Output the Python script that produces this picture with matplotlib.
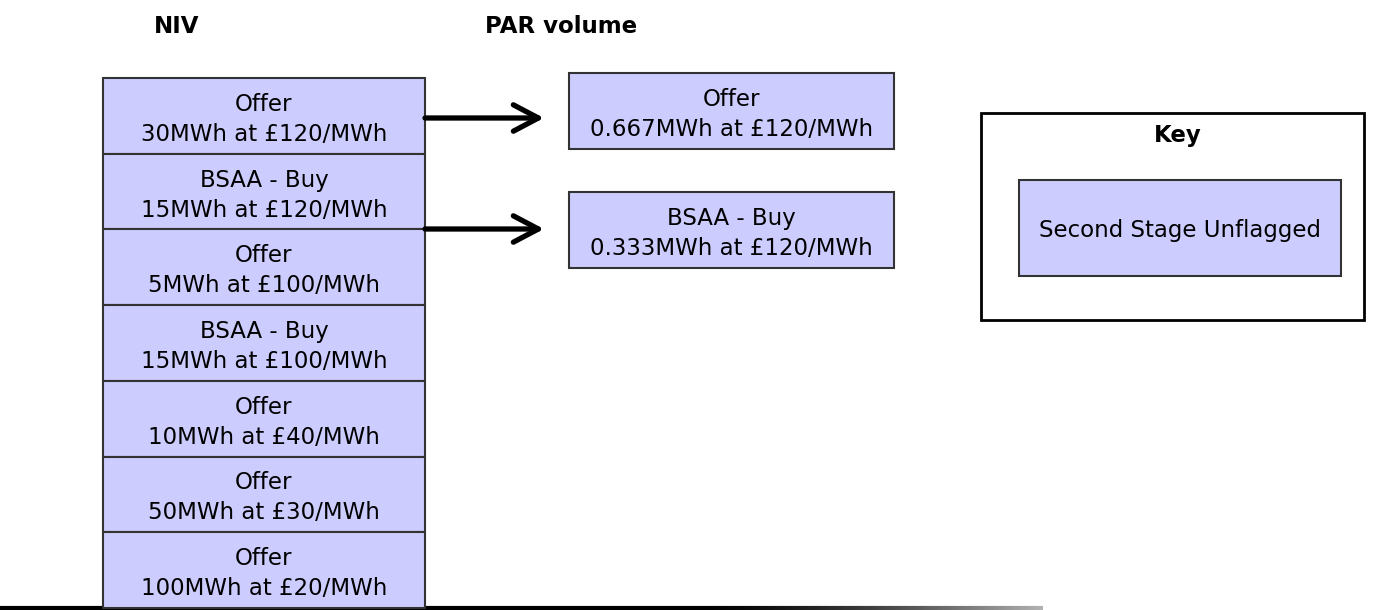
import matplotlib.pyplot as plt
import numpy as np
from matplotlib.patches import Rectangle, FancyArrowPatch
from matplotlib.collections import LineCollection

# stack of NIV actions (top to bottom)
niv_types = ['Offer', 'BSAA - Buy', 'Offer', 'BSAA - Buy', 'Offer', 'Offer', 'Offer']
niv_volumes = ['30MWh', '15MWh', '5MWh', '15MWh', '10MWh', '50MWh', '100MWh']
niv_prices = ['£120/MWh', '£120/MWh', '£100/MWh', '£100/MWh', '£40/MWh', '£30/MWh', '£20/MWh']

# PAR volume boxes
par_types = ['Offer', 'BSAA - Buy']
par_volumes = ['0.667MWh', '0.333MWh']
par_prices = ['£120/MWh', '£120/MWh']

key_label = 'Second Stage Unflagged'

fill = '#ccccff'
edge = '#333333'
fs = 16.5
plt.rcParams['font.family'] = ['DejaVu Sans']

fig = plt.figure(figsize=(13.82, 6.10), dpi=100)
ax = fig.add_axes([0, 0, 1, 1])
ax.set_xlim(0, 1382)
ax.set_ylim(610, 0)
ax.axis('off')


def box(x0, y0, w, h, line1, line2=None, lw=1.5):
    ax.add_patch(Rectangle((x0, y0), w, h, facecolor=fill, edgecolor=edge, lw=lw, zorder=2))
    cx, cy = x0 + w / 2, y0 + h / 2
    if line2 is None:
        ax.text(cx, cy + 9, line1, ha='center', va='baseline', fontsize=fs, zorder=3)
    else:
        ax.text(cx, cy - 5, line1, ha='center', va='baseline', fontsize=fs, zorder=3)
        ax.text(cx, cy + 25, line2, ha='center', va='baseline', fontsize=fs, zorder=3)


# NIV stack
x0, top, w, h = 103, 78, 322, 75.7
for i, (t, v, p) in enumerate(zip(niv_types, niv_volumes, niv_prices)):
    box(x0, top + i * h, w, h, t, f'{v} at {p}')

# PAR boxes
par_x, par_w = 569, 325
par_y = [73, 192]
for y, t, v, p in zip(par_y, par_types, par_volumes, par_prices):
    box(par_x, y, par_w, 76, t, f'{v} at {p}')

# arrows
for ay in [118, 229]:
    ax.add_patch(FancyArrowPatch((425, ay), (544, ay),
                                 arrowstyle='->,head_length=18,head_width=9.5',
                                 lw=3.8, color='black', zorder=4,
                                 capstyle='round', joinstyle='round',
                                 shrinkA=0, shrinkB=0, mutation_scale=1))

# headings
ax.text(177, 33, 'NIV', ha='center', va='baseline', fontsize=fs, fontweight='bold')
ax.text(561, 33, 'PAR volume', ha='center', va='baseline', fontsize=fs, fontweight='bold')

# key
ax.add_patch(Rectangle((981, 113), 383, 207, facecolor='white', edgecolor='black', lw=2, zorder=1))
ax.text(1178, 142, 'Key', ha='center', va='baseline', fontsize=fs, fontweight='bold')
box(1019, 180, 322, 96, key_label)

# baseline, mostly black, fading to grey at the right end
xs = np.linspace(0, 1043, 300)
segs = [[(xs[i], 607.5), (xs[i + 1], 607.5)] for i in range(len(xs) - 1)]
mid = (xs[:-1] + xs[1:]) / 2
g = np.clip((mid - 700) / (1043 - 700), 0, 1) ** 1.5 * 0.7
cols = [(c, c, c) for c in g]
ax.add_collection(LineCollection(segs, colors=cols, linewidths=3, zorder=1))

fig.savefig('out.png', dpi=100)
